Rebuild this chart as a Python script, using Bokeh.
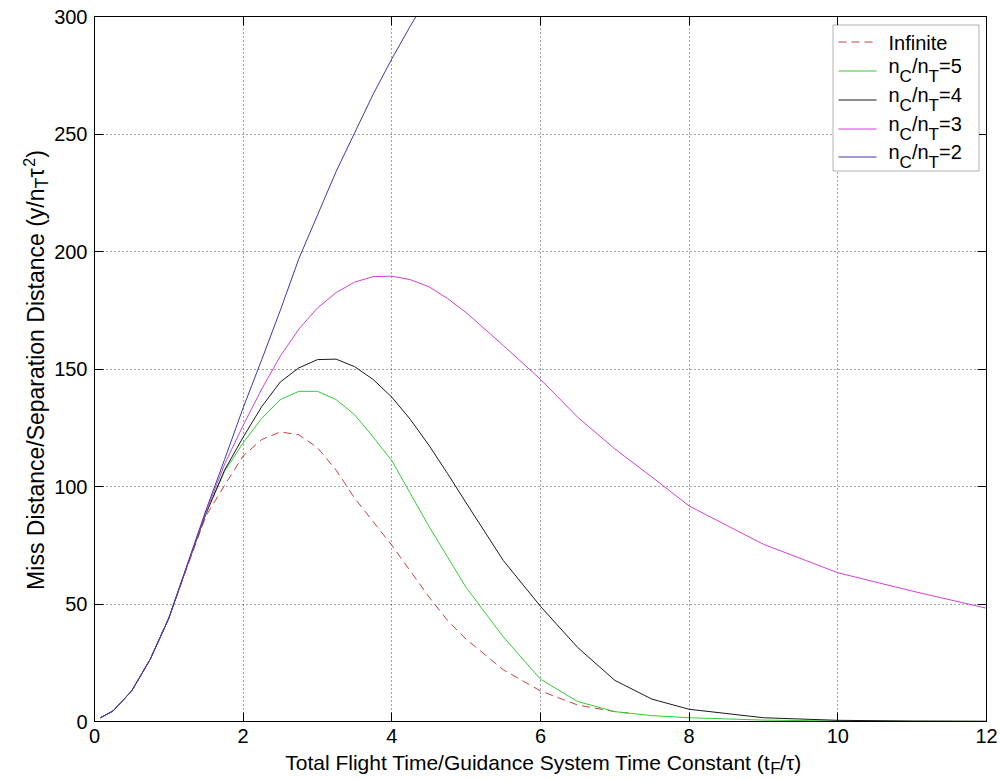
import math
from bokeh.plotting import figure
from bokeh.layouts import row, column
from bokeh.models import (Range1d, FixedTicker, LinearAxis, CustomJSTickFormatter,
                          Label, BoxAnnotation, Arrow)
from bokeh.embed import file_html
from bokeh.resources import INLINE

# ---------------- data ----------------
x_inf = [0.08, 0.25, 0.5, 0.75, 1.0, 1.25, 1.5, 1.75, 2.0, 2.25, 2.5, 2.75, 3.0, 3.25,
         3.5, 3.75, 4.0, 4.25, 4.5, 4.75, 5.0, 5.5, 6.0, 6.5, 7.0, 7.2]
y_inf = [1.6, 4.5, 13, 26.5, 44, 66, 87.5, 100.5, 113, 120, 123.2, 122, 116.5, 107,
         95, 85, 75, 64, 53, 43, 35, 22, 13, 7, 4.2, 3.5]

x_full = [0.08, 0.25, 0.5, 0.75, 1.0, 1.25, 1.5, 1.75, 2.0, 2.25, 2.5, 2.75, 3.0, 3.25,
          3.5, 3.75, 4.0, 4.25, 4.5, 4.75, 5.0, 5.5, 6.0, 6.5, 7.0, 7.5, 8.0, 9.0,
          10.0, 11.0, 12.0]
y_r5 = [1.6, 4.5, 13, 26.5, 44, 66.5, 88.5, 106.5, 118.6, 129, 137, 140.5, 140.5, 137,
        130.5, 121, 111, 97, 83, 70, 57, 36, 18, 8.5, 4.2, 2.5, 1.6, 0.6, 0.2, 0.1, 0.05]
y_r4 = [1.6, 4.5, 13, 26.5, 44, 66.5, 88.5, 107, 121, 134, 144.5, 150.5, 154, 154.2,
        151, 145.5, 138, 128.5, 117.5, 105.5, 93, 68.5, 49, 31.5, 17.5, 9.5, 5.2, 1.6,
        0.5, 0.2, 0.1]
y_r3 = [1.6, 4.5, 13, 26.5, 44, 66.5, 89, 109.5, 126, 141.5, 155.5, 167, 176, 182.5,
        187, 189.3, 189.5, 188, 185, 180, 174, 160, 145.6, 129.5, 116, 104, 91.7, 75.4,
        63.3, 55.5, 48.2]

x_r2 = [0.08, 0.25, 0.5, 0.75, 1.0, 1.25, 1.5, 1.75, 2.0, 2.25, 2.5, 2.75, 3.0, 3.25,
        3.5, 3.75, 4.0, 4.25, 4.4]
y_r2 = [1.6, 4.5, 13, 26.5, 44, 67, 90, 111.5, 133.5, 154, 175, 197, 215.5, 234,
        250.5, 267, 282, 296, 304]

x_ticks = [0, 2, 4, 6, 8, 10, 12]
y_ticks = [0, 50, 100, 150, 200, 250, 300]

series_names = ["Infinite", "5", "4", "3", "2"]
colors = ["#cc3e3e", "#33cc33", "#1a1a1a", "#d040d0", "#3a3aa8"]

FONT = "Liberation Sans"
SHIFT = 0.29   # Labels with an "alphabetic" baseline land this many em low; compensate

# ---------------- geometry (canvas pixels of the 1000x780 page) ----------------
W, H = 1000, 780
YLAB_W = 51            # strip on the left for the y-axis title
XLAB_H = 29            # strip at the bottom for the x-axis title
FL, FR, FT, FB = 94, 986, 16, 721   # plot frame edges

# ---------------- main figure ----------------
MW, MH = W - YLAB_W, H - XLAB_H
p = figure(width=MW, height=MH, output_backend="svg", toolbar_location=None,
           x_range=Range1d(0, 12), y_range=Range1d(0, 300),
           min_border_left=FL - YLAB_W, min_border_right=W - FR,
           min_border_top=FT, min_border_bottom=MH - FB)
p.background_fill_color = "white"
p.border_fill_color = "white"
p.outline_line_color = "black"
p.outline_line_width = 1

for ax, ticks in ((p.xaxis[0], x_ticks), (p.yaxis[0], y_ticks)):
    ax.ticker = FixedTicker(ticks=ticks)
    ax.major_tick_in = 9
    ax.major_tick_out = 0
    ax.minor_tick_line_color = None
    ax.axis_line_color = "black"
    ax.major_tick_line_color = "black"
    ax.major_label_text_font = FONT
    ax.major_label_text_font_size = "20px"
    ax.major_label_text_color = "black"
    ax.major_label_standoff = 7

# box ticks on top and right
for loc, ticks in (("above", x_ticks), ("right", y_ticks)):
    ax = LinearAxis(ticker=FixedTicker(ticks=ticks),
                    formatter=CustomJSTickFormatter(code="return ''"),
                    major_tick_in=9, major_tick_out=0, minor_tick_line_color=None,
                    major_label_standoff=0, axis_line_color="black",
                    major_tick_line_color="black")
    p.add_layout(ax, loc)

for g in (p.xgrid[0], p.ygrid[0]):
    g.grid_line_color = "#444444"
    g.grid_line_dash = "1 3"
    g.grid_line_width = 1
p.xgrid[0].ticker = FixedTicker(ticks=x_ticks)
p.ygrid[0].ticker = FixedTicker(ticks=y_ticks)

# ---------------- curves ----------------
p.line(x_inf, y_inf, line_color=colors[0], line_width=1, line_dash="8 5")
p.line(x_full, y_r5, line_color=colors[1], line_width=1)
p.line(x_full, y_r4, line_color=colors[2], line_width=1)
p.line(x_full, y_r3, line_color=colors[3], line_width=1)
p.line(x_r2, y_r2, line_color=colors[4], line_width=1)


def add_text(fig, text, x, y, size, align="left", rotated=False, units="screen"):
    """x, y: wanted baseline anchor (y measured upwards)."""
    d = SHIFT * size
    if rotated:
        x, angle = x - d, math.pi / 2
    else:
        y, angle = y + d, 0.0
    fig.add_layout(Label(x=x, y=y, x_units=units, y_units=units,
                         text=text, text_font=FONT, text_font_size=f"{size}px",
                         text_color="black", text_align=align,
                         text_baseline="alphabetic", angle=angle))


# ---------------- legend (inside the frame; screen units are frame relative) ----------------
def sx(px):
    return px - FL


def sy(py):
    return FB - py


LG_L, LG_R, LG_T, LG_B = 832.5, 978.5, 24.5, 170.5
p.add_layout(BoxAnnotation(left=sx(LG_L), right=sx(LG_R), top=sy(LG_T), bottom=sy(LG_B),
                           left_units="screen", right_units="screen",
                           top_units="screen", bottom_units="screen",
                           fill_color="white", fill_alpha=1.0,
                           line_color="black", line_width=1))
row_y = [41.5, 70.5, 99.5, 128.5, 156.5]
dashes = ["8 5", "solid", "solid", "solid", "solid"]
for i in range(5):
    yy = row_y[i]
    p.add_layout(Arrow(end=None, start=None,
                       x_start=sx(838), y_start=sy(yy), x_end=sx(876), y_end=sy(yy),
                       start_units="screen", end_units="screen",
                       line_color=colors[i], line_width=1, line_dash=dashes[i]))
    tx = 888
    if i == 0:
        add_text(p, series_names[0], sx(tx), sy(yy + 7), 20)
    else:
        add_text(p, "n", sx(tx), sy(yy + 1), 20)
        add_text(p, "C", sx(tx + 11.1), sy(yy + 10), 17)
        add_text(p, "/n", sx(tx + 23.4), sy(yy + 1), 20)
        add_text(p, "T", sx(tx + 40.1), sy(yy + 10), 17)
        add_text(p, "=" + series_names[i], sx(tx + 50.5), sy(yy + 1), 20)


def strip(width, height):
    f = figure(width=width, height=height, output_backend="svg", toolbar_location=None,
               x_range=Range1d(0, width), y_range=Range1d(0, height),
               x_axis_location=None, y_axis_location=None,
               min_border=0, min_border_left=0, min_border_right=0,
               min_border_top=0, min_border_bottom=0)
    f.outline_line_color = None
    f.background_fill_color = "white"
    f.border_fill_color = "white"
    f.xgrid.visible = False
    f.ygrid.visible = False
    return f


# ---------------- x axis title strip: Total Flight Time/... (t_F/τ) ----------------
xs = strip(MW, XLAB_H)
X0, XB = 770, 768      # canvas px: end of "(t", baseline
add_text(xs, "Total Flight Time/Guidance System Time Constant (t",
         X0 - YLAB_W, H - XB, 21, "right", units="data")
add_text(xs, "F", X0 - YLAB_W, H - (XB + 5), 17, units="data")
add_text(xs, "/\u03c4)", X0 + 10.4 - YLAB_W, H - XB, 21, units="data")

# ---------------- y axis title strip: Miss Distance/... (y/n_T τ^2) ----------------
ys = strip(YLAB_W, H)
YB, Y0 = 42.5, 188      # canvas px: baseline x, end of "(y/n"
add_text(ys, "Miss Distance/Separation Distance (y/n", YB, H - Y0, 23, "right", True, "data")
add_text(ys, "T", YB + 4.5, H - Y0, 18, "left", True, "data")
add_text(ys, "\u03c4", YB, H - (Y0 - 11.0), 23, "left", True, "data")
add_text(ys, "2", YB - 9, H - (Y0 - 21.8), 16, "left", True, "data")
add_text(ys, ")", YB, H - (Y0 - 30.7), 23, "left", True, "data")

layout = row(ys, column(p, xs, spacing=0), spacing=0)
open("out.html", "w").write(file_html(layout, INLINE))
